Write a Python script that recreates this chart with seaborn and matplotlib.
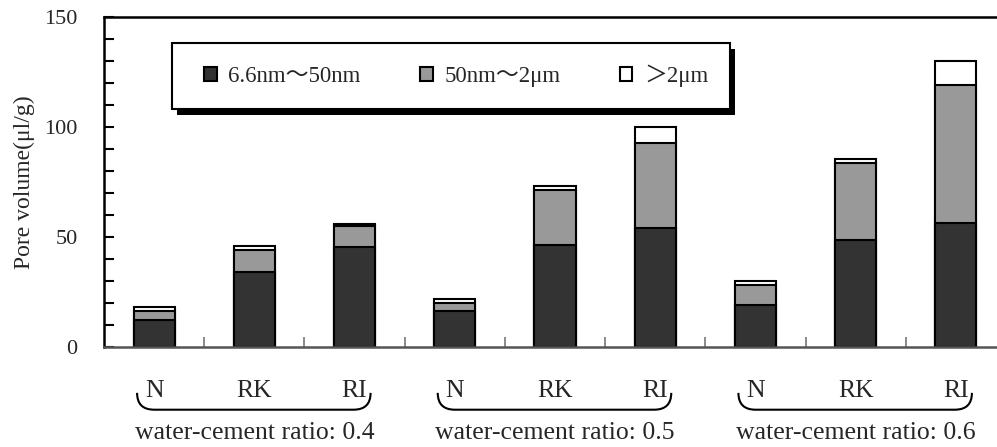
import matplotlib
matplotlib.use("Agg")
import matplotlib.pyplot as plt
import seaborn as sns
import numpy as np
import pandas as pd
from matplotlib.patches import Patch, Rectangle, PathPatch
from matplotlib.path import Path
from matplotlib.transforms import IdentityTransform, blended_transform_factory
from matplotlib.ticker import MultipleLocator, FixedLocator

# ---- data ----
groups = ["water-cement ratio: 0.4", "water-cement ratio: 0.5", "water-cement ratio: 0.6"]
types = ["N", "RK", "RI"]
small_pores = [12.5, 34.0, 45.5, 16.5, 46.5, 54.0, 19.0, 48.5, 56.5]   # 6.6nm~50nm
mid_pores = [4.0, 10.0, 9.5, 3.5, 25.0, 38.5, 9.0, 35.0, 62.5]       # 50nm~2um
large_pores = [1.5, 1.8, 1.0, 2.0, 1.5, 7.5, 2.0, 1.8, 11.0]        # >2um
series_labels = ["6.6nm～50nm", "50nm～2μm", "＞2μm"]
series_colors = ["#333333", "#999999", "#ffffff"]
yticks = [0, 50, 100, 150]

cats = [f"{g}|{t}" for g in groups for t in types]
s = np.array(small_pores)
m = np.array(mid_pores)
l = np.array(large_pores)
df = pd.DataFrame({"cat": cats, "dark": s, "mid": s + m, "total": s + m + l})

sns.set_style("white")
plt.rcParams["font.family"] = ["Liberation Serif", "Noto Sans CJK SC", "DejaVu Sans"]
plt.rcParams["font.size"] = 16

W, H = 997, 447
fig = plt.figure(figsize=(W / 100, H / 100), dpi=100)
fig.patch.set_facecolor("white")
ax = fig.add_axes([104 / W, 100 / H, 902 / W, 330 / H])
ax.patch.set_visible(False)

for col, color in zip(["total", "mid", "dark"], series_colors[::-1]):
    sns.barplot(data=df, x="cat", y=col, order=cats, color=color, width=0.41,
                edgecolor="black", linewidth=1.5, saturation=1, ax=ax, errorbar=None)

ax.set_xlim(-0.5, 8.5)
ax.set_ylim(0, 150)
ax.set_xlabel("")
ax.set_ylabel("Pore volume(μl/g)", fontsize=17, labelpad=6.5)

# y ticks
ax.yaxis.set_major_locator(FixedLocator(yticks))
ax.yaxis.set_minor_locator(MultipleLocator(10))
ax.tick_params(axis="y", which="both", direction="in", left=True, color="black", width=1.5)
ax.tick_params(axis="y", which="major", length=7, pad=19, labelsize=16)
ax.tick_params(axis="y", which="minor", length=7)

# x ticks
ax.set_xticks(range(len(cats)))
ax.set_xticklabels(types * len(groups), fontsize=18.5)
ax.tick_params(axis="x", which="major", length=0, pad=24)
ax.xaxis.set_minor_locator(FixedLocator(np.arange(0.5, 8, 1.0)))
ax.tick_params(axis="x", which="minor", direction="in", bottom=True, length=7,
               width=1.2, color="#777777")

for side in ["left", "top", "right"]:
    ax.spines[side].set_color("black")
    ax.spines[side].set_linewidth(1.8)
ax.spines["bottom"].set_color("#555555")
ax.spines["bottom"].set_linewidth(1.8)

# braces and group labels
trans = blended_transform_factory(ax.transData, ax.transAxes)
yt, yb = -0.139, -0.19
r = 0.17
for gi, g in enumerate(groups):
    x0 = gi * 3 - 0.17
    x1 = gi * 3 + 2.16
    verts = [(x0, yt), (x0, yb), (x0 + r, yb), (x1 - r, yb), (x1, yb), (x1, yt)]
    codes = [Path.MOVETO, Path.CURVE3, Path.CURVE3, Path.LINETO, Path.CURVE3, Path.CURVE3]
    pp = PathPatch(Path(verts, codes), transform=trans, fill=False, edgecolor="black",
                   linewidth=1.5, clip_on=False)
    ax.add_patch(pp)
    ax.text(gi * 3 + 1, -0.26, g, transform=trans, ha="center", va="center", fontsize=18.5)

# legend box (frame + shadow drawn in figure pixels)
bx0, bx1, by_top, by_bot = 172, 730, 43, 109
shadow = Rectangle((bx0 + 5, H - by_bot - 6), bx1 - bx0, by_bot - by_top,
                   transform=IdentityTransform(), facecolor="black", edgecolor="none", zorder=3)
frame = Rectangle((bx0, H - by_bot), bx1 - bx0, by_bot - by_top,
                  transform=IdentityTransform(), facecolor="white", edgecolor="black",
                  linewidth=1.5, zorder=4)
fig.add_artist(shadow)
fig.add_artist(frame)

handles = [Patch(facecolor=c, edgecolor="black", linewidth=1.5) for c in series_colors]
leg = fig.legend(handles, series_labels, loc="center left",
                 bbox_to_anchor=(204 / W, 1 - 76 / H), ncol=3, frameon=False,
                 fontsize=16.5, handlelength=0.55, handleheight=0.55, handletextpad=0.5,
                 columnspacing=2.6, borderpad=0, borderaxespad=0)
leg.set_zorder(5)

fig.savefig("out.png", dpi=100)
